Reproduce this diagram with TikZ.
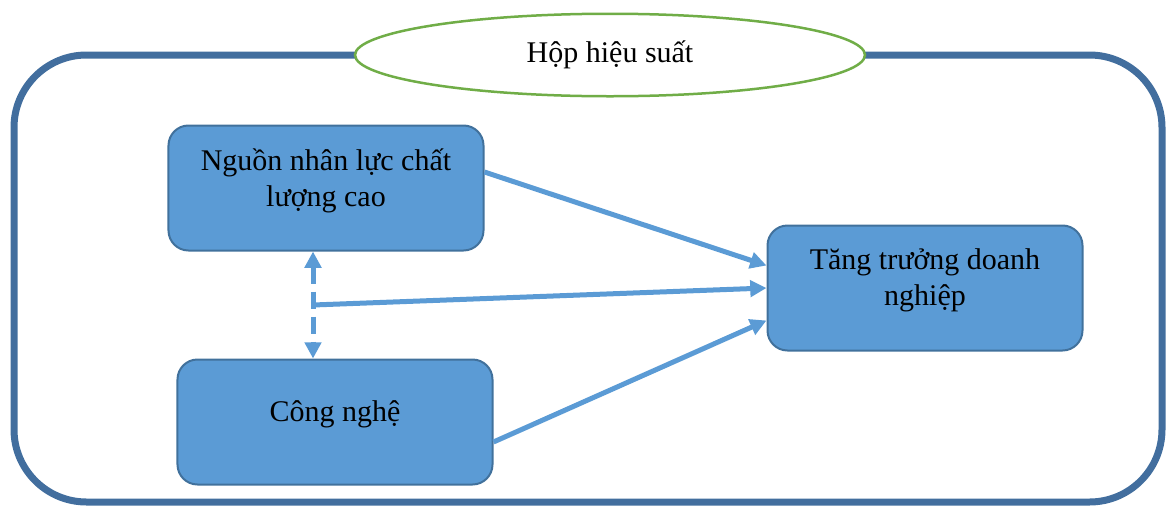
\documentclass[tikz,border=0pt]{standalone}
\usepackage{fontspec}
\setmainfont{Liberation Serif}
\usepackage{tikz}
\usetikzlibrary{calc}
\usetikzlibrary{arrows.meta, positioning, shapes.geometric}

\definecolor{boxblue}{RGB}{91,155,213}
\definecolor{edgeblue}{RGB}{65,113,156}
\definecolor{frameblue}{RGB}{66,110,158}
\definecolor{titlegreen}{RGB}{112,173,71}

\begin{document}
\begin{tikzpicture}[x=0.4pt, y=-0.4pt, font=\fontsize{12}{14.5}\selectfont,
  frame/.style={draw=frameblue, line width=2.8pt, rounded corners=29pt},
  title/.style={ellipse, draw=titlegreen, fill=white, line width=1pt,
    minimum width=204pt, minimum height=33pt},
  unit/.style={draw=edgeblue, fill=boxblue, line width=0.8pt, rounded corners=8pt,
    minimum width=126pt, minimum height=50pt, align=center},
  flow/.style={-{Triangle[length=6.5pt, width=6.5pt]}, draw=boxblue, line width=2pt},
  dashflow/.style={{Triangle[length=6.5pt, width=6.5pt]}-{Triangle[length=6.5pt, width=6.5pt]},
    draw=boxblue, line width=2pt, dash pattern=on 7pt off 3pt}]
\useasboundingbox (0,0) rectangle (1167,507);

% Outer frame and title
\draw[frame] (14,55) rectangle (1162,502);
\node[title] (head) at (610,55) {Hộp hiệu suất};

% Factors and outcome
\node[unit] (staff) at (326,188) {Nguồn nhân lực chất\\lượng cao\\[-6pt]};
\node[unit] (tech)  at (335,422) {Công nghệ\\[-6pt]};
\node[unit] (grow)  at (925,288) {Tăng trưởng doanh\\nghiệp\\[-6pt]};

% Two-way link between the factors
\coordinate (dx) at (313,0);
\draw[dashflow] (dx |- staff.south) -- (dx |- tech.north);
\coordinate (joint) at ($(dx |- staff.south)!0.5!(dx |- tech.north)$);

% Effects on growth
\draw[flow] ([yshift=6.4pt]staff.east) -- ([yshift=9pt]grow.west);
\draw[flow] (joint) -- (grow.west);
\draw[flow] ([yshift=-8pt]tech.east) -- ([yshift=-13pt]grow.west);

\end{tikzpicture}
\end{document}
